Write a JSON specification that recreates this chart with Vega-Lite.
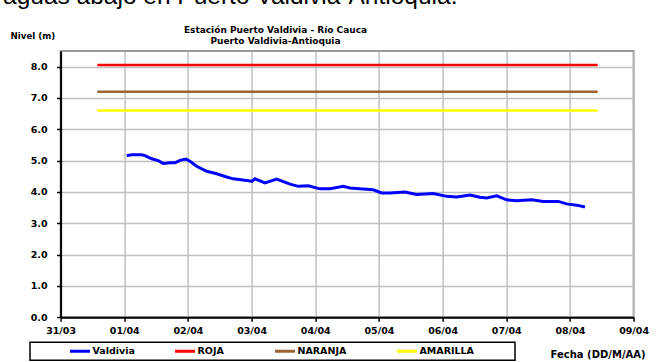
{
  "$schema": "https://vega.github.io/schema/vega-lite/v6.json",
  "width": 573,
  "height": 266.3,
  "autosize": {"type": "none"},
  "padding": {"left": 60.6, "top": 51, "right": 22.4, "bottom": 44.7},
  "background": "white",
  "title": {
    "text": "aguas abajo en Puerto Valdivia-Antioquia.",
    "anchor": "start",
    "frame": "bounds",
    "font": "Liberation Sans",
    "fontSize": 24.5,
    "fontWeight": "normal",
    "color": "black",
    "baseline": "alphabetic",
    "offset": -3,
    "dx": -7
  },
  "datasets": {
    "valdivia": [
      {"fecha": "2018-04-01T00:55", "nivel": 5.16, "serie": "Valdivia"},
      {"fecha": "2018-04-01T02:48", "nivel": 5.19, "serie": "Valdivia"},
      {"fecha": "2018-04-01T06:34", "nivel": 5.19, "serie": "Valdivia"},
      {"fecha": "2018-04-01T07:49", "nivel": 5.16, "serie": "Valdivia"},
      {"fecha": "2018-04-01T10:21", "nivel": 5.06, "serie": "Valdivia"},
      {"fecha": "2018-04-01T12:49", "nivel": 5.00, "serie": "Valdivia"},
      {"fecha": "2018-04-01T14:43", "nivel": 4.91, "serie": "Valdivia"},
      {"fecha": "2018-04-01T17:14", "nivel": 4.93, "serie": "Valdivia"},
      {"fecha": "2018-04-01T19:07", "nivel": 4.93, "serie": "Valdivia"},
      {"fecha": "2018-04-01T21:00", "nivel": 5.01, "serie": "Valdivia"},
      {"fecha": "2018-04-01T23:16", "nivel": 5.05, "serie": "Valdivia"},
      {"fecha": "2018-04-02T00:46", "nivel": 4.98, "serie": "Valdivia"},
      {"fecha": "2018-04-02T03:18", "nivel": 4.82, "serie": "Valdivia"},
      {"fecha": "2018-04-02T07:05", "nivel": 4.66, "serie": "Valdivia"},
      {"fecha": "2018-04-02T10:51", "nivel": 4.58, "serie": "Valdivia"},
      {"fecha": "2018-04-02T14:37", "nivel": 4.48, "serie": "Valdivia"},
      {"fecha": "2018-04-02T17:05", "nivel": 4.42, "serie": "Valdivia"},
      {"fecha": "2018-04-02T22:09", "nivel": 4.37, "serie": "Valdivia"},
      {"fecha": "2018-04-03T00:02", "nivel": 4.34, "serie": "Valdivia"},
      {"fecha": "2018-04-03T01:16", "nivel": 4.42, "serie": "Valdivia"},
      {"fecha": "2018-04-03T05:02", "nivel": 4.29, "serie": "Valdivia"},
      {"fecha": "2018-04-03T09:27", "nivel": 4.41, "serie": "Valdivia"},
      {"fecha": "2018-04-03T14:28", "nivel": 4.25, "serie": "Valdivia"},
      {"fecha": "2018-04-03T17:36", "nivel": 4.18, "serie": "Valdivia"},
      {"fecha": "2018-04-03T21:22", "nivel": 4.20, "serie": "Valdivia"},
      {"fecha": "2018-04-04T01:47", "nivel": 4.10, "serie": "Valdivia"},
      {"fecha": "2018-04-04T05:33", "nivel": 4.10, "serie": "Valdivia"},
      {"fecha": "2018-04-04T10:34", "nivel": 4.18, "serie": "Valdivia"},
      {"fecha": "2018-04-04T13:05", "nivel": 4.13, "serie": "Valdivia"},
      {"fecha": "2018-04-04T16:51", "nivel": 4.10, "serie": "Valdivia"},
      {"fecha": "2018-04-04T21:52", "nivel": 4.07, "serie": "Valdivia"},
      {"fecha": "2018-04-05T01:02", "nivel": 3.97, "serie": "Valdivia"},
      {"fecha": "2018-04-05T04:09", "nivel": 3.97, "serie": "Valdivia"},
      {"fecha": "2018-04-05T09:49", "nivel": 4.00, "serie": "Valdivia"},
      {"fecha": "2018-04-05T14:14", "nivel": 3.92, "serie": "Valdivia"},
      {"fecha": "2018-04-05T20:30", "nivel": 3.95, "serie": "Valdivia"},
      {"fecha": "2018-04-06T01:32", "nivel": 3.86, "serie": "Valdivia"},
      {"fecha": "2018-04-06T05:18", "nivel": 3.84, "serie": "Valdivia"},
      {"fecha": "2018-04-06T10:19", "nivel": 3.90, "serie": "Valdivia"},
      {"fecha": "2018-04-06T14:05", "nivel": 3.83, "serie": "Valdivia"},
      {"fecha": "2018-04-06T16:36", "nivel": 3.81, "serie": "Valdivia"},
      {"fecha": "2018-04-06T20:23", "nivel": 3.88, "serie": "Valdivia"},
      {"fecha": "2018-04-07T00:09", "nivel": 3.75, "serie": "Valdivia"},
      {"fecha": "2018-04-07T03:55", "nivel": 3.72, "serie": "Valdivia"},
      {"fecha": "2018-04-07T09:34", "nivel": 3.75, "serie": "Valdivia"},
      {"fecha": "2018-04-07T13:57", "nivel": 3.70, "serie": "Valdivia"},
      {"fecha": "2018-04-07T19:36", "nivel": 3.70, "serie": "Valdivia"},
      {"fecha": "2018-04-07T22:46", "nivel": 3.62, "serie": "Valdivia"},
      {"fecha": "2018-04-08T02:33", "nivel": 3.58, "serie": "Valdivia"},
      {"fecha": "2018-04-08T05:40", "nivel": 3.52, "serie": "Valdivia"}
    ],
    "umbrales": [
      {"fecha": "2018-03-31T13:50", "nivel": 8.05, "serie": "ROJA"},
      {"fecha": "2018-04-08T10:28", "nivel": 8.05, "serie": "ROJA"},
      {"fecha": "2018-03-31T13:50", "nivel": 7.2, "serie": "NARANJA"},
      {"fecha": "2018-04-08T10:28", "nivel": 7.2, "serie": "NARANJA"},
      {"fecha": "2018-03-31T13:50", "nivel": 6.6, "serie": "AMARILLA"},
      {"fecha": "2018-04-08T10:28", "nivel": 6.6, "serie": "AMARILLA"}
    ]
  },
  "encoding": {
    "y": {
      "field": "nivel",
      "type": "quantitative",
      "scale": {"domain": [0, 8.5], "nice": false, "zero": true},
      "axis": {
        "values": [0, 1, 2, 3, 4, 5, 6, 7, 8],
        "tickCount": 9,
        "labelOverlap": false,
        "format": ".1f",
        "tickSize": 4,
        "labelPadding": 9.6,
        "grid": true,
        "title": "Nivel (m)",
        "titleAngle": 0,
        "titleX": -50.6,
        "titleY": -16,
        "titleAlign": "left",
        "titleBaseline": "middle",
        "titleFontSize": 8.7
      }
    },
    "color": {
      "field": "serie",
      "type": "nominal",
      "scale": {
        "domain": ["Valdivia", "ROJA", "NARANJA", "AMARILLA"],
        "range": ["#0000ff", "#ff0000", "#996633", "#ffff00"]
      },
      "legend": {
        "orient": "none",
        "legendX": -30.6,
        "legendY": 291.3,
        "direction": "horizontal",
        "columns": 4,
        "gridAlign": "each",
        "columnPadding": 38,
        "symbolType": "stroke",
        "symbolSize": 400,
        "symbolStrokeWidth": 3,
        "clipHeight": 11,
        "labelOffset": 1,
        "title": "\u00a0",
        "titleOrient": "left",
        "titlePadding": 35,
        "strokeColor": "black",
        "padding": 3.5,
        "labelExpr": "datum.label == 'AMARILLA' ? 'AMARILLA\u00a0\u00a0\u00a0\u00a0\u00a0\u00a0\u00a0\u00a0\u00a0\u2800' : datum.label == 'ROJA' ? 'ROJA\u00a0\u2800' : datum.label == 'NARANJA' ? 'NARANJA\u00a0\u2800' : datum.label"
      }
    }
  },
  "layer": [
    {
      "data": {"name": "valdivia"},
      "mark": {"type": "line", "strokeWidth": 3},
      "encoding": {
        "x": {
          "field": "fecha",
          "type": "temporal",
          "scale": {"domain": ["2018-03-31T00:00", "2018-04-09T00:00"], "nice": false},
          "axis": {
            "orient": "bottom",
            "format": "%d/%m",
            "tickCount": {"interval": "day", "step": 1},
            "grid": true,
            "labelFlush": false,
            "labelOverlap": false,
            "labelPadding": 4,
            "tickSize": 4,
            "title": "Fecha (DD/M/AA)",
            "titleX": 537,
            "titleY": 36.7,
            "titleAlign": "center",
            "titleBaseline": "middle",
            "titleFontSize": 10
          }
        }
      }
    },
    {
      "data": {"name": "umbrales"},
      "mark": {"type": "line", "strokeWidth": 2.5},
      "encoding": {
        "x": {
          "field": "fecha",
          "type": "temporal",
          "axis": {
            "orient": "top",
            "labels": false,
            "ticks": false,
            "domain": false,
            "grid": false,
            "title": ["Estación Puerto Valdivia - Río Cauca", "Puerto Valdivia-Antioquia"],
            "titleX": 214.4,
            "titleY": -21.5,
            "titleAlign": "center",
            "titleBaseline": "middle",
            "titleFontSize": 9,
            "titleLineHeight": 11
          }
        }
      }
    }
  ],
  "resolve": {"axis": {"x": "independent"}},
  "config": {
    "font": "DejaVu Sans",
    "view": {"stroke": "#999999", "strokeWidth": 2},
    "axis": {
      "labelFont": "DejaVu Sans",
      "labelFontWeight": "bold",
      "labelFontSize": 9.5,
      "labelColor": "black",
      "titleFont": "DejaVu Sans",
      "titleFontWeight": "bold",
      "titleColor": "black",
      "domainColor": "black",
      "domainWidth": 2,
      "tickColor": "black",
      "tickWidth": 1.5,
      "gridColor": "#c0c0c0",
      "gridWidth": 1.5
    },
    "legend": {
      "labelFont": "DejaVu Sans",
      "labelFontWeight": "bold",
      "labelFontSize": 9.5,
      "labelColor": "black",
      "titleFont": "DejaVu Sans",
      "titleFontSize": 9.5,
      "strokeWidth": 1.5
    }
  }
}
